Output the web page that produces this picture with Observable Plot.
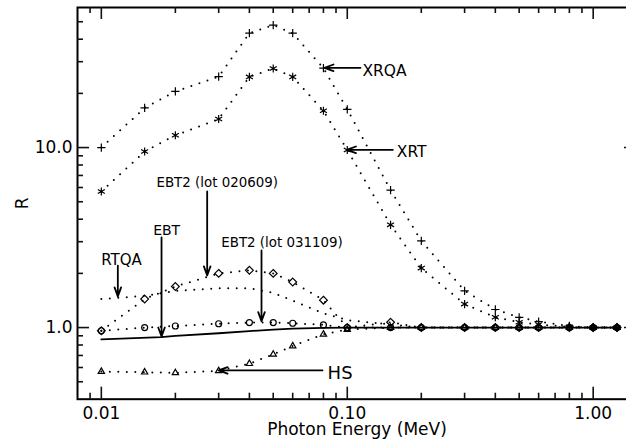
<!DOCTYPE html>
<html><head><meta charset="utf-8">
<script src="https://cdn.jsdelivr.net/npm/d3@7"></script>
<script src="https://cdn.jsdelivr.net/npm/@observablehq/plot@0.6"></script>
<style>
html,body{margin:0;padding:0;background:#fff;overflow:hidden}
#chart{width:626px;height:446px;overflow:hidden}
</style></head><body><div id="chart"></div>
<script>
// Photon energies (MeV)
const energies = [0.01,0.015,0.02,0.03,0.04,0.05,0.06,0.08,0.1,0.15,0.2,0.3,0.4,0.5,0.6,0.8,1.0,1.25];
const xrqa = [10.0,16.6,20.5,24.8,43.2,47.9,43.2,27.6,16.3,5.8,3.03,1.6,1.26,1.14,1.08,1.02,1.0,1.0];
const xrt  = [5.7,9.5,11.7,14.4,24.7,27.5,24.7,16.0,9.7,3.72,2.14,1.35,1.14,1.07,1.04,1.01,1.0,1.0];
const ebt2_020609 = [0.96,1.44,1.69,2.0,2.08,2.0,1.79,1.42,1.0,1.07,1.0,1.0,1.0,1.0,1.0,1.0,1.0,1.0];
const ebt2_031109 = [0.96,1.0,1.02,1.05,1.066,1.066,1.057,1.035,1.0,1.0,1.0,1.0,1.0,1.0,1.0,1.0,1.0,1.0];
const rtqa = [1.44,1.5,1.6,1.655,1.655,1.56,1.41,1.2,1.1,1.04,1.0,1.0,1.0,1.0,1.0,1.0,1.0,1.0];
const hs   = [0.57,0.565,0.56,0.575,0.63,0.71,0.79,0.918,0.975,1.0,1.0,1.0,1.0,1.0,1.0,1.0,1.0,1.0];
const ebtEnergies = [0.01,0.0175,0.02,0.03,0.04,0.05,0.06,0.08,0.1,0.15,0.2,0.3,0.4,0.5,0.6,0.8,1.0,1.25];
const ebt = [0.86,0.885,0.9,0.93,0.955,0.975,0.987,0.997,1.0,1.0,1.0,1.0,1.0,1.0,1.0,1.0,1.0,1.0];

// Axis ticks
const xMajor = [0.01,0.1,1];
const xMinor = [0.009,0.02,0.03,0.04,0.05,0.06,0.07,0.08,0.09,0.2,0.3,0.4,0.5,0.6,0.7,0.8,0.9];
const yMajor = [1,10];
const yMinor = [0.5,0.6,0.7,0.8,0.9,2,3,4,5,6,7,8,9,20,30,40,50];

// Annotations
const annoLabels = ["XRQA","XRT","HS","EBT2 (lot 020609)","EBT","EBT2 (lot 031109)","RTQA"];
const annoX = [0.1153,0.1591,0.0832,0.0296,0.01843,0.0543,0.01208];
const annoY = [26.65,9.42,0.56,6.40,3.46,2.95,2.38];
const arrowX1 = [0.1132,0.1533,0.0793,0.02694,0.01757,0.0448,0.01167];
const arrowY1 = [27.75,9.72,0.578,5.70,3.17,2.68,2.21];
const arrowX2 = [0.0808,0.0997,0.02996,0.02694,0.01757,0.0448,0.01167];
const arrowY2 = [27.75,9.72,0.578,1.948,0.892,1.085,1.49];

const W = 626, H = 446, mL = 77, mT = 7, mB = 47.3, mR = -10;
const plotW = W - mL - mR, plotH = H - mT - mB;
const MAJ = 12, MIN = 6;

const rows = (xs, ys) => xs.map((x, i) => ({x, y: ys[i]}));
const dotted = {x: "x", y: "y", stroke: "black", strokeWidth: 2, strokeDasharray: "0 8.5", strokeLinecap: "round"};
const marker = (ys, symbol, r) => Plot.dot(rows(energies, ys), {x: "x", y: "y", symbol, r, stroke: "black", fill: "none", strokeWidth: 1.2});
const tick = {stroke: "#111", strokeWidth: 1.6};

const labelSize = {"XRQA": 15.5, "XRT": 15.5, "HS": 18, "EBT": 14, "RTQA": 15};
const labelAnchor = {"XRQA": "start", "XRT": "start", "HS": "start"};
const idx = annoLabels.map((_, i) => i);

const chart = Plot.plot({
  width: W,
  height: H,
  marginLeft: mL,
  marginTop: mT,
  marginBottom: mB,
  marginRight: mR,
  style: {fontFamily: "'DejaVu Sans', sans-serif", background: "white", color: "black"},
  x: {type: "log", domain: [0.008, 1.5]},
  y: {type: "log", domain: [0.4, 60]},
  marks: [
    Plot.line(rows(energies, xrqa), dotted),
    Plot.line(rows(energies, xrt), dotted),
    Plot.line(rows(energies, ebt2_020609), dotted),
    Plot.line(rows(energies, ebt2_031109), dotted),
    Plot.line(rows(energies, rtqa), dotted),
    Plot.line(rows(energies, hs), dotted),
    Plot.line(rows(ebtEnergies, ebt), {x: "x", y: "y", stroke: "black", strokeWidth: 1.8}),
    marker(xrqa, "plus", 2.8),
    marker(xrt, "asterisk", 3.8),
    marker(ebt2_020609, "diamond2", 3.5),
    marker(ebt2_031109, "circle", 3),
    marker(hs, "triangle2", 3),
    Plot.frame({stroke: "black", strokeWidth: 2}),
    // inward ticks on all four sides
    Plot.tickX(xMajor, {x: d => d, insetTop: plotH - MAJ, ...tick}),
    Plot.tickX(xMinor, {x: d => d, insetTop: plotH - MIN, ...tick}),
    Plot.tickX(xMajor, {x: d => d, insetBottom: plotH - MAJ, ...tick}),
    Plot.tickX(xMinor, {x: d => d, insetBottom: plotH - MIN, ...tick}),
    Plot.tickY(yMajor, {y: d => d, insetRight: plotW - MAJ, ...tick}),
    Plot.tickY(yMinor, {y: d => d, insetRight: plotW - MIN, ...tick}),
    Plot.tickY(yMajor, {y: d => d, insetLeft: plotW - MAJ, ...tick}),
    Plot.tickY(yMinor, {y: d => d, insetLeft: plotW - MIN, ...tick}),
    // axis labels
    Plot.axisX(xMajor, {anchor: "bottom", tickSize: 0, tickPadding: 8, fontSize: 17, tickFormat: d => d.toFixed(2), label: "Photon Energy (MeV)", labelAnchor: "center", labelOffset: 36, labelArrow: "none"}),
    Plot.axisY(yMajor, {anchor: "left", tickSize: 0, tickPadding: 5, fontSize: 17, tickFormat: d => d.toFixed(1), label: "R", labelAnchor: "center", labelOffset: 62, labelArrow: "none"}),
    // annotation arrows
    Plot.arrow(idx, {x1: i => arrowX1[i], y1: i => arrowY1[i], x2: i => arrowX2[i], y2: i => arrowY2[i], stroke: "black", strokeWidth: 1.8, headLength: 8, headAngle: 40}),
    ...idx.map(i => Plot.text([i], {
      x: j => annoX[j], y: j => annoY[j], text: j => annoLabels[j],
      fontSize: labelSize[annoLabels[i]] || 13.4,
      textAnchor: labelAnchor[annoLabels[i]] || "middle",
      fill: "black"
    }))
  ]
});
document.getElementById("chart").appendChild(chart);
</script>
</body></html>
